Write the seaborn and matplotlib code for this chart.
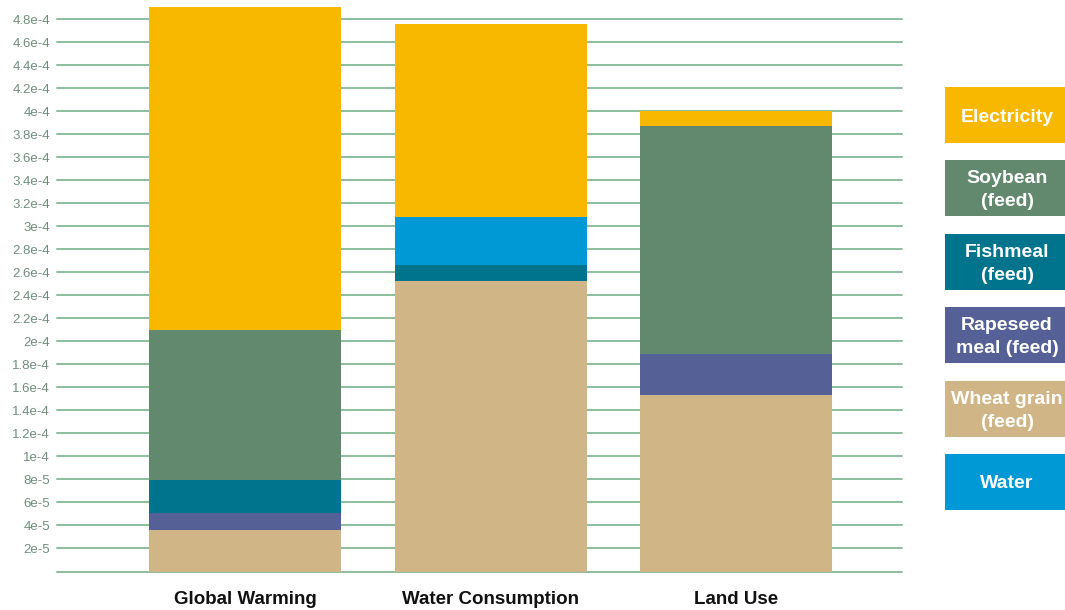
import numpy as np
import pandas as pd
import matplotlib
matplotlib.use("Agg")
import matplotlib.pyplot as plt
import seaborn as sns
from matplotlib.patches import Rectangle

sns.set_theme(style="white")
plt.rcParams['font.family'] = ['Liberation Sans', 'DejaVu Sans']

categories = ["Global Warming", "Water Consumption", "Land Use"]
# stack order bottom -> top
components = ["Wheat grain\n(feed)", "Rapeseed\nmeal (feed)", "Fishmeal\n(feed)",
              "Soybean\n(feed)", "Water", "Electricity"]
wheat = [3.6e-5, 2.52e-4, 1.53e-4]
rapeseed = [1.5e-5, 0.0, 3.6e-5]
fishmeal = [2.85e-5, 1.4e-5, 0.0]
soybean = [1.30e-4, 0.0, 1.98e-4]
water = [0.0, 4.17e-5, 0.0]
electricity = [2.806e-4, 1.677e-4, 1.3e-5]
colors = ["#D0B687", "#546096", "#00738D", "#62886E", "#0099D6", "#F8B800"]

tick_values = [i * 2e-5 for i in range(25)]
tick_labels = ["", "2e-5", "4e-5", "6e-5", "8e-5", "1e-4", "1.2e-4", "1.4e-4", "1.6e-4",
               "1.8e-4", "2e-4", "2.2e-4", "2.4e-4", "2.6e-4", "2.8e-4", "3e-4", "3.2e-4",
               "3.4e-4", "3.6e-4", "3.8e-4", "4e-4", "4.2e-4", "4.4e-4", "4.6e-4", "4.8e-4"]
legend_order = ["Electricity", "Soybean\n(feed)", "Fishmeal\n(feed)",
                "Rapeseed\nmeal (feed)", "Wheat grain\n(feed)", "Water"]

series = [wheat, rapeseed, fishmeal, soybean, water, electricity]
cum = np.cumsum(np.array(series), axis=0)

fig = plt.figure(figsize=(10.65, 6.10), dpi=100)
ax = fig.add_axes([57 / 1065, 1 - 571.5 / 610, (902 - 57) / 1065, (571.5 - 1.8) / 610])

# draw cumulative totals top-down so each lower segment overlays the upper ones
for i in range(len(series) - 1, -1, -1):
    df = pd.DataFrame({"cat": categories, "val": cum[i]})
    sns.barplot(data=df, x="cat", y="val", color=colors[i], width=0.782,
                saturation=1, linewidth=0, edgecolor="none", ax=ax, zorder=3)

ax.set_xlim(-0.766, 2.676)
ax.set_ylim(0, 4.95e-4)
ax.set_yticks(tick_values)
ax.set_yticklabels(tick_labels, color="#6e8f7a", fontsize=9.5)
ax.yaxis.grid(True, color="#8cbf9c", linewidth=1.4, zorder=0)
for gl in ax.get_ygridlines():
    gl.set_clip_on(False)
ax.set_axisbelow(True)
ax.tick_params(axis="y", length=0, pad=5)
ax.tick_params(axis="x", length=0, pad=14)
ax.set_xticks(range(len(categories)))
ax.set_xticklabels(categories, fontsize=13.5, fontweight="bold", color="#111111")
ax.set_xlabel("")
ax.set_ylabel("")
for s in ax.spines.values():
    s.set_visible(False)

# legend panel
lax = fig.add_axes([0, 0, 1, 1], facecolor="none")
lax.set_xlim(0, 1065)
lax.set_ylim(610, 0)
lax.axis("off")
color_map = dict(zip(components, colors))
for k, name in enumerate(legend_order):
    top = 87 + k * 73.4
    lax.add_patch(Rectangle((945, top), 120, 56, facecolor=color_map[name], edgecolor="none"))
    lax.text(1007, top + 30, name, ha="center", va="center", color="white",
             fontsize=14, fontweight="bold", linespacing=1.45)

fig.savefig("out.png", dpi=100)
